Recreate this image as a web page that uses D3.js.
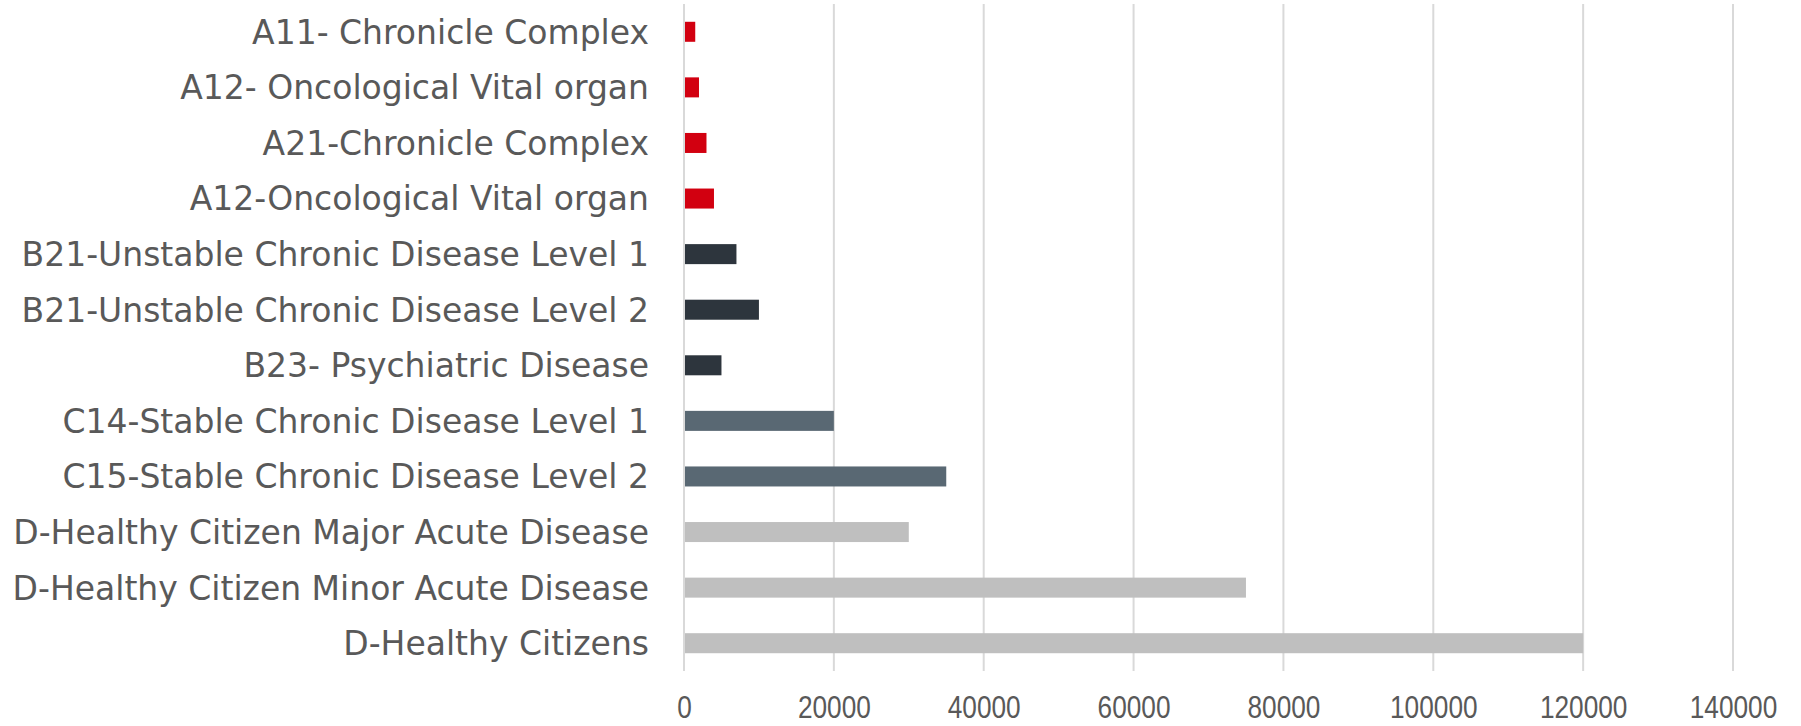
<!DOCTYPE html>
<html>
<head>
<meta charset="utf-8">
<script src="https://cdn.jsdelivr.net/npm/d3@7"></script>
<style>
  html, body { margin: 0; padding: 0; background: #ffffff; }
  svg { display: block; }
  .cat-label { font-family: "DejaVu Sans", sans-serif; font-size: 33px; fill: #595959; }
  .tick-label { font-family: "Liberation Sans", sans-serif; font-size: 32px; fill: #595959; }
</style>
</head>
<body>
<svg id="chart" width="1801" height="726"></svg>
<script>
// Patient segments, top to bottom
const categories = [
  "A11- Chronicle Complex",
  "A12- Oncological Vital organ",
  "A21-Chronicle Complex",
  "A12-Oncological Vital organ",
  "B21-Unstable Chronic Disease Level 1",
  "B21-Unstable Chronic Disease Level 2",
  "B23- Psychiatric Disease",
  "C14-Stable Chronic Disease Level 1",
  "C15-Stable Chronic Disease Level 2",
  "D-Healthy Citizen Major Acute Disease",
  "D-Healthy Citizen Minor Acute Disease",
  "D-Healthy Citizens"
];

// Number of citizens in each segment
const values = [1500, 2000, 3000, 4000, 7000, 10000, 5000, 20000, 35000, 30000, 75000, 120000];

// Risk group of each segment
const groups = ["A", "A", "A", "A", "B", "B", "B", "C", "C", "D", "D", "D"];
const groupNames = ["A", "B", "C", "D"];
const groupColors = ["#d20010", "#2d353d", "#596873", "#bfbfbf"];

const xTicks = [0, 20000, 40000, 60000, 80000, 100000, 120000, 140000];

const svg = d3.select("#chart");

const plot = { left: 684, right: 1733, top: 4, bottom: 671 };

const x = d3.scaleLinear()
  .domain([0, 140000])
  .range([plot.left, plot.right]);

const y = d3.scaleBand()
  .domain(categories)
  .range([plot.top, plot.bottom])
  .paddingInner(0.64)
  .paddingOuter(0.32);

const color = d3.scaleOrdinal().domain(groupNames).range(groupColors);

// Vertical gridlines
svg.append("g")
  .selectAll("line")
  .data(xTicks)
  .join("line")
  .attr("x1", d => x(d))
  .attr("x2", d => x(d))
  .attr("y1", plot.top)
  .attr("y2", plot.bottom)
  .attr("stroke", "#d9d9d9")
  .attr("stroke-width", 2);

// Bars
svg.append("g")
  .selectAll("rect")
  .data(categories)
  .join("rect")
  .attr("x", x(0) + 1)
  .attr("y", d => y(d))
  .attr("width", (d, i) => x(values[i]) - x(0) - 1)
  .attr("height", y.bandwidth())
  .attr("fill", (d, i) => color(groups[i]));

// Category labels
svg.append("g")
  .selectAll("text")
  .data(categories)
  .join("text")
  .attr("class", "cat-label")
  .attr("x", plot.left - 35)
  .attr("y", d => y(d) + y.bandwidth() / 2)
  .attr("dy", "0.36em")
  .attr("text-anchor", "end")
  .text(d => d);

// Value axis labels (narrow numerals)
const xAxis = d3.axisBottom(x).tickValues(xTicks).tickFormat(d3.format("d")).tickSize(0).tickPadding(0);
const axisG = svg.append("g")
  .attr("transform", `translate(0, ${plot.bottom})`)
  .call(xAxis);
axisG.select(".domain").remove();
axisG.selectAll("text")
  .attr("class", "tick-label")
  .attr("font-family", null)
  .attr("font-size", null)
  .attr("fill", null)
  .attr("y", 47)
  .attr("dy", null)
  .attr("transform", "scale(0.82,1)");
</script>
</body>
</html>
